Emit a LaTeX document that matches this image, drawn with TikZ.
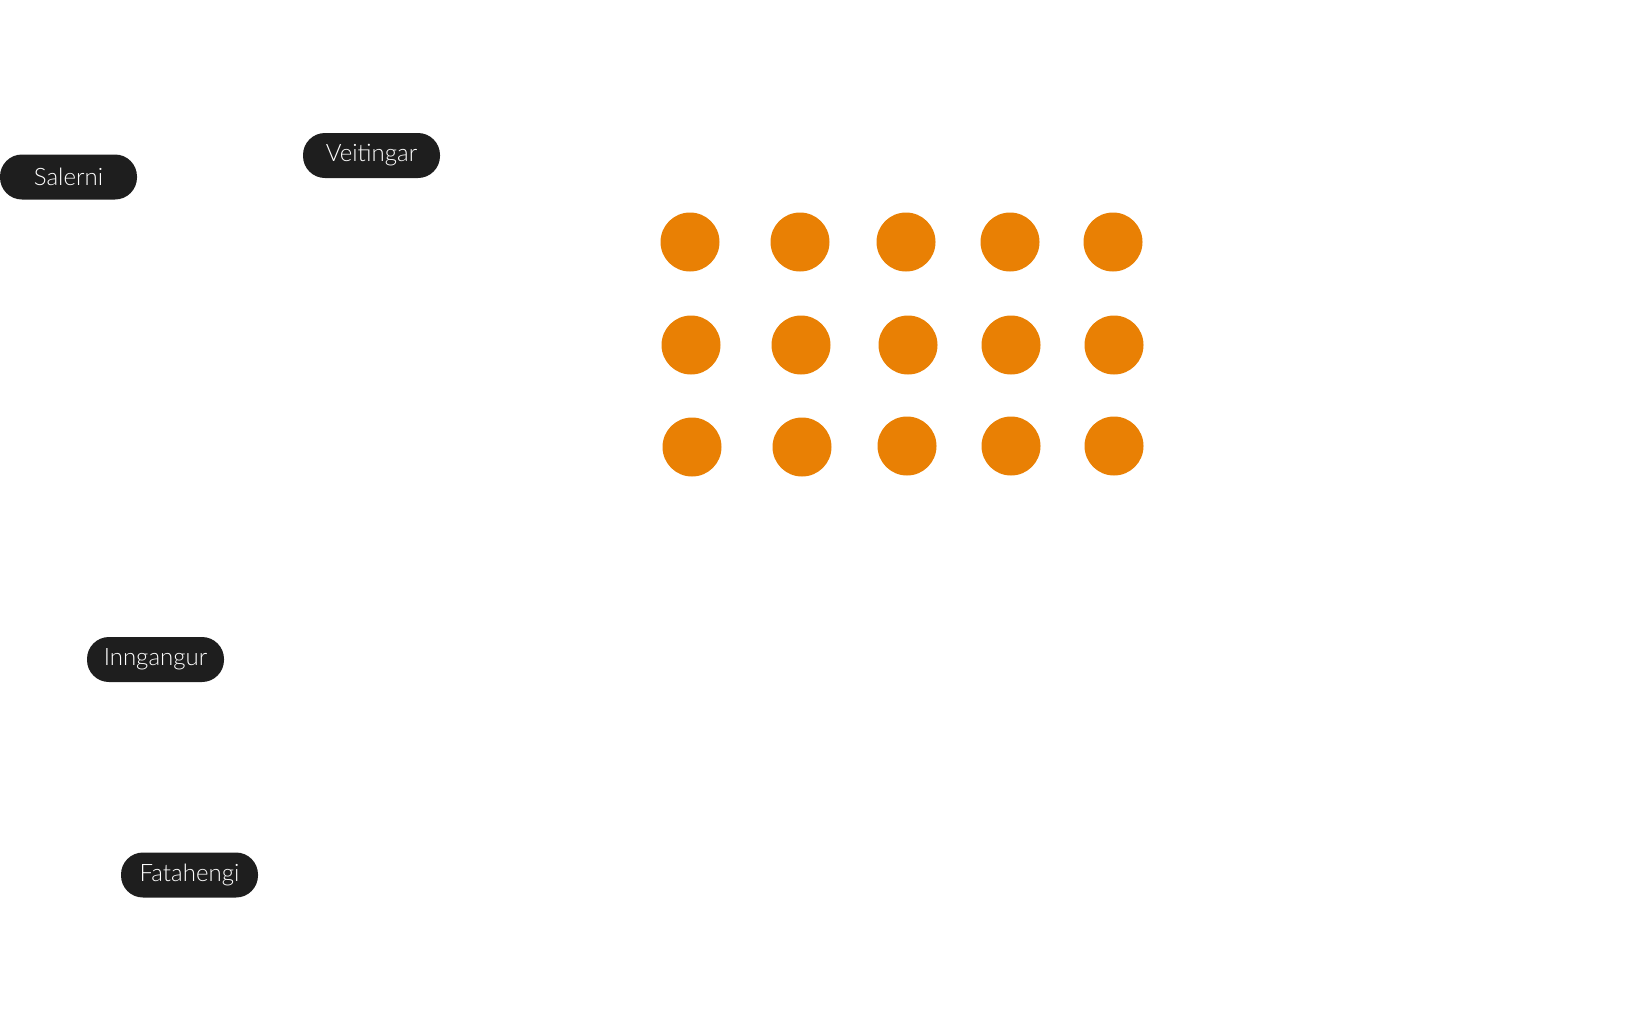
\documentclass[tikz,border=0pt]{standalone}
\usepackage{fontspec}
\setmainfont{Lato Light}
\definecolor{dotorange}{RGB}{233,128,4}
\definecolor{tagblack}{RGB}{30,30,30}

\begin{document}
\begin{tikzpicture}
	[x=1pt,y=-1pt,
	dot/.style={circle,minimum size=59pt,inner sep=0pt,fill=dotorange},
	tag/.style={rectangle,rounded corners=22pt,minimum width=137pt,minimum height=45pt,inner sep=0pt,fill=tagblack,text=white,font=\fontsize{24}{28}\selectfont}]
	\useasboundingbox (0,0) rectangle (1632,1031);
	\node[tag] (salerni) at (68.5,177) {Salerni};
	\node[tag] (veitingar) at (371.5,155.5) {Veitingar};
	\node[tag] (inngangur) at (155.5,659.5) {Inngangur};
	\node[tag] (fatahengi) at (189.5,875) {Fatahengi};
	% seats
	\foreach \x [count=\c] in {690,800,906,1010,1113}
		\node[dot] (d-1-\c) at (\x,242) {};
	\foreach \x [count=\c] in {691,801,908,1011,1114}
		\node[dot] (d-2-\c) at (\x,345) {};
	\foreach \x/\y [count=\c] in {692/447,802/447,907/446,1011/446,1114/446}
		\node[dot] (d-3-\c) at (\x,\y) {};
\end{tikzpicture}
\end{document}
